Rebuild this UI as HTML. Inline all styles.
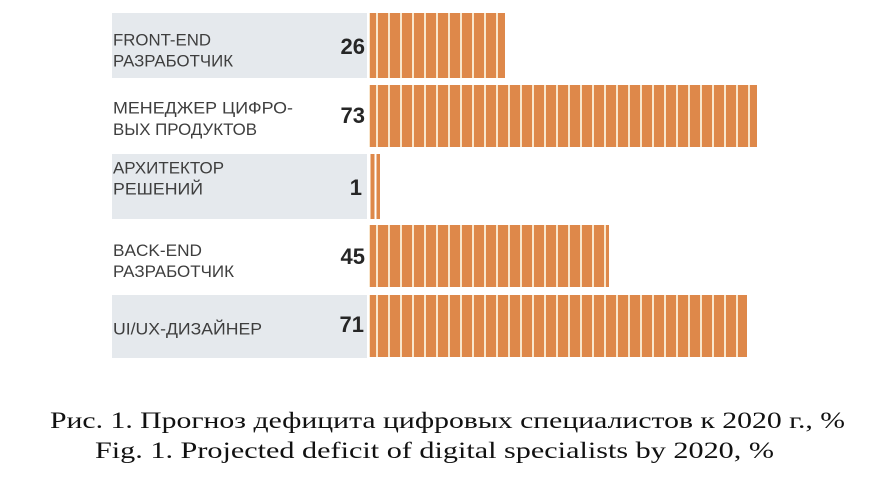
<!DOCTYPE html>
<html>
<head>
<meta charset="utf-8">
<style>
  html,body{margin:0;padding:0;background:#fff;}
  svg{display:block;}
  .lbl{font-family:"Liberation Sans","Noto Sans CJK SC",sans-serif;font-size:17px;fill:#3e3e3e;}
  .num{font-family:"Liberation Sans",sans-serif;font-size:22px;font-weight:bold;fill:#262626;}
  .cap{font-family:"Liberation Serif","Noto Serif CJK SC",serif;font-size:23px;fill:#111;}
</style>
</head>
<body>
<svg width="896" height="482" viewBox="0 0 896 482" xmlns="http://www.w3.org/2000/svg">
  <defs>
    <pattern id="st" x="378" y="0" width="12" height="10" patternUnits="userSpaceOnUse">
      <rect x="0" y="0" width="12" height="10" fill="#f9e6cc"/>
      <rect x="0" y="0" width="10" height="10" fill="#de884a"/>
    </pattern>
  </defs>
  <rect width="896" height="482" fill="#fff"/>

  <!-- gray row backgrounds -->
  <rect x="112" y="13" width="255" height="65" fill="#e5e9ed"/>
  <rect x="112" y="154" width="255" height="65" fill="#e5e9ed"/>
  <rect x="112" y="295" width="255" height="63" fill="#e5e9ed"/>

  <!-- bars -->
  <rect x="369" y="13" width="9" height="65" fill="#f9e6cc"/>
  <rect x="370" y="13" width="6" height="65" fill="#de884a"/>
  <rect x="378" y="13" width="127" height="65" fill="url(#st)"/>

  <rect x="369" y="85" width="9" height="62" fill="#f9e6cc"/>
  <rect x="370" y="85" width="6" height="62" fill="#de884a"/>
  <rect x="378" y="85" width="379" height="62" fill="url(#st)"/>

  <rect x="370.5" y="154" width="4" height="65" fill="#de884a"/>
  <rect x="376.5" y="154" width="3.5" height="65" fill="#de884a"/>

  <rect x="369" y="225" width="9" height="62" fill="#f9e6cc"/>
  <rect x="370" y="225" width="6" height="62" fill="#de884a"/>
  <rect x="378" y="225" width="231" height="62" fill="url(#st)"/>

  <rect x="369" y="295" width="9" height="62" fill="#f9e6cc"/>
  <rect x="370" y="295" width="6" height="62" fill="#de884a"/>
  <rect x="378" y="295" width="369" height="62" fill="url(#st)"/>

  <!-- labels -->
  <text class="lbl" x="113" y="45.5" textLength="98" lengthAdjust="spacingAndGlyphs">FRONT-END</text>
  <text class="lbl" x="113" y="66.5" textLength="120" lengthAdjust="spacingAndGlyphs">РАЗРАБОТЧИК</text>
  <text class="num" x="365" y="54" text-anchor="end">26</text>

  <text class="lbl" x="113" y="113.5" textLength="180" lengthAdjust="spacingAndGlyphs">МЕНЕДЖЕР ЦИФРО-</text>
  <text class="lbl" x="113" y="135" textLength="144" lengthAdjust="spacingAndGlyphs">ВЫХ ПРОДУКТОВ</text>
  <text class="num" x="365" y="123" text-anchor="end">73</text>

  <text class="lbl" x="113" y="173.5" textLength="111" lengthAdjust="spacingAndGlyphs">АРХИТЕКТОР</text>
  <text class="lbl" x="113" y="194.5" textLength="90" lengthAdjust="spacingAndGlyphs">РЕШЕНИЙ</text>
  <text class="num" x="362" y="195" text-anchor="end">1</text>

  <text class="lbl" x="113" y="256" textLength="89" lengthAdjust="spacingAndGlyphs">BACK-END</text>
  <text class="lbl" x="113" y="277" textLength="121" lengthAdjust="spacingAndGlyphs">РАЗРАБОТЧИК</text>
  <text class="num" x="365" y="264" text-anchor="end">45</text>

  <text class="lbl" x="113" y="334.5" textLength="149" lengthAdjust="spacingAndGlyphs">UI/UX-ДИЗАЙНЕР</text>
  <text class="num" x="364" y="332" text-anchor="end">71</text>

  <!-- caption -->
  <text class="cap" x="50" y="428" textLength="795" lengthAdjust="spacingAndGlyphs">Рис. 1. Прогноз дефицита цифровых специалистов к 2020 г., %</text>
  <text class="cap" x="95" y="458" textLength="679" lengthAdjust="spacingAndGlyphs">Fig. 1. Projected deficit of digital specialists by 2020, %</text>
</svg>
</body>
</html>
